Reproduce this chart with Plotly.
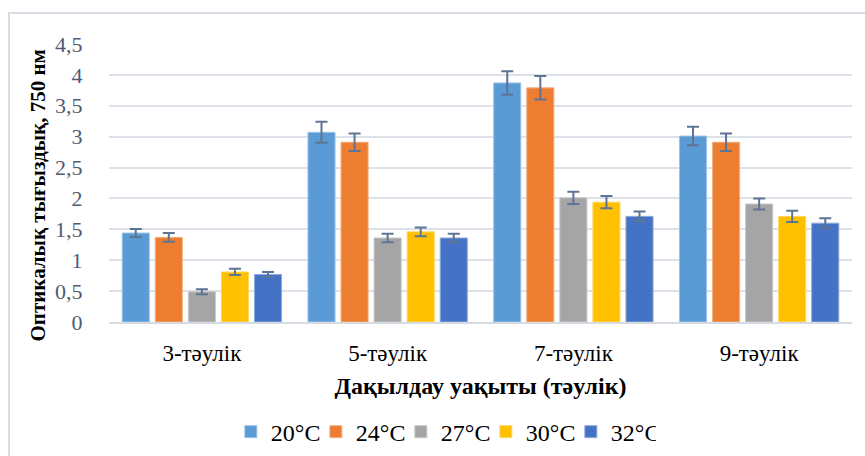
import plotly.graph_objects as go

categories = ["3-тәулік", "5-тәулік", "7-тәулік", "9-тәулік"]
series_names = ["20°C", "24°C", "27°C", "30°C", "32°C"]
values_20 = [1.44, 3.07, 3.87, 3.01]
values_24 = [1.37, 2.91, 3.79, 2.91]
values_27 = [0.49, 1.36, 2.01, 1.91]
values_30 = [0.81, 1.46, 1.94, 1.71]
values_32 = [0.77, 1.36, 1.71, 1.60]
errors_20 = [0.065, 0.17, 0.19, 0.15]
errors_24 = [0.07, 0.14, 0.19, 0.14]
errors_27 = [0.04, 0.07, 0.10, 0.09]
errors_30 = [0.05, 0.07, 0.10, 0.09]
errors_32 = [0.04, 0.07, 0.08, 0.08]
y_tick_vals = [0, 0.5, 1, 1.5, 2, 2.5, 3, 3.5, 4, 4.5]

colors = ["#5B9BD5", "#ED7D31", "#A5A5A5", "#FFC000", "#4472C4"]
edge_colors = ["#9DC3E6", "#F4B183", "#C9C9C9", "#FFD966", "#8FAADC"]
all_values = [values_20, values_24, values_27, values_30, values_32]
all_errors = [errors_20, errors_24, errors_27, errors_30, errors_32]

SERIF = "Liberation Serif"

fig = go.Figure()
for name, vals, errs, col, ecol in zip(series_names, all_values, all_errors, colors, edge_colors):
    fig.add_trace(go.Bar(
        name=name, x=categories, y=vals,
        marker=dict(color=col, line=dict(color=ecol, width=1)),
        error_y=dict(type="data", array=errs, visible=True,
                     color="#5E7494", thickness=2, width=6),
    ))

fig.update_layout(
    width=865, height=456,
    margin=dict(l=109, r=13, t=44, b=134, autoexpand=False),
    paper_bgcolor="white", plot_bgcolor="white",
    barmode="group", bargap=0.11, bargroupgap=0.18,
    separators=", ",
    font=dict(family=SERIF, color="#000000"),
    showlegend=True,
    legend=dict(orientation="h", x=0.45, xanchor="center", y=-0.315, yanchor="top",
                font=dict(family=SERIF, size=24, color="#000000"),
                itemwidth=30, entrywidth=40, traceorder="normal"),
    xaxis=dict(
        showgrid=False, showline=True, linecolor="#D6DAE2", linewidth=2,
        tickfont=dict(family=SERIF, size=23, color="#000000"),
        ticks="", ticklabelstandoff=9, automargin=False,
        title=dict(text="<b>Дақылдау уақыты (тәулік)</b>",
                   font=dict(family=SERIF, size=24, color="#000000"), standoff=13),
    ),
    yaxis=dict(
        range=[0, 4.5], tickvals=y_tick_vals, showgrid=True,
        gridcolor="#DDE1E8", gridwidth=2, zeroline=False, showline=False,
        tickfont=dict(family=SERIF, size=22, color="#4F5B73"),
        ticks="outside", ticklen=21, tickcolor="rgba(0,0,0,0)", automargin=False,
    ),
    annotations=[dict(text="<b>Оптикалық тығыздық, 750 нм</b>", textangle=-90,
                      xref="paper", yref="paper", x=-0.0956, y=0.455,
                      xanchor="center", yanchor="middle", showarrow=False,
                      font=dict(family=SERIF, size=21, color="#000000"))],
    shapes=[dict(type="rect", xref="paper", yref="paper",
                 x0=-0.1346, x1=1.1, y0=-0.6, y1=1.1115,
                 line=dict(color="#D9DCE3", width=2), fillcolor="rgba(0,0,0,0)",
                 layer="below")],
)

fig.write_html("out.html", config={"displayModeBar": False},
               post_script="document.body.style.margin='0';")
